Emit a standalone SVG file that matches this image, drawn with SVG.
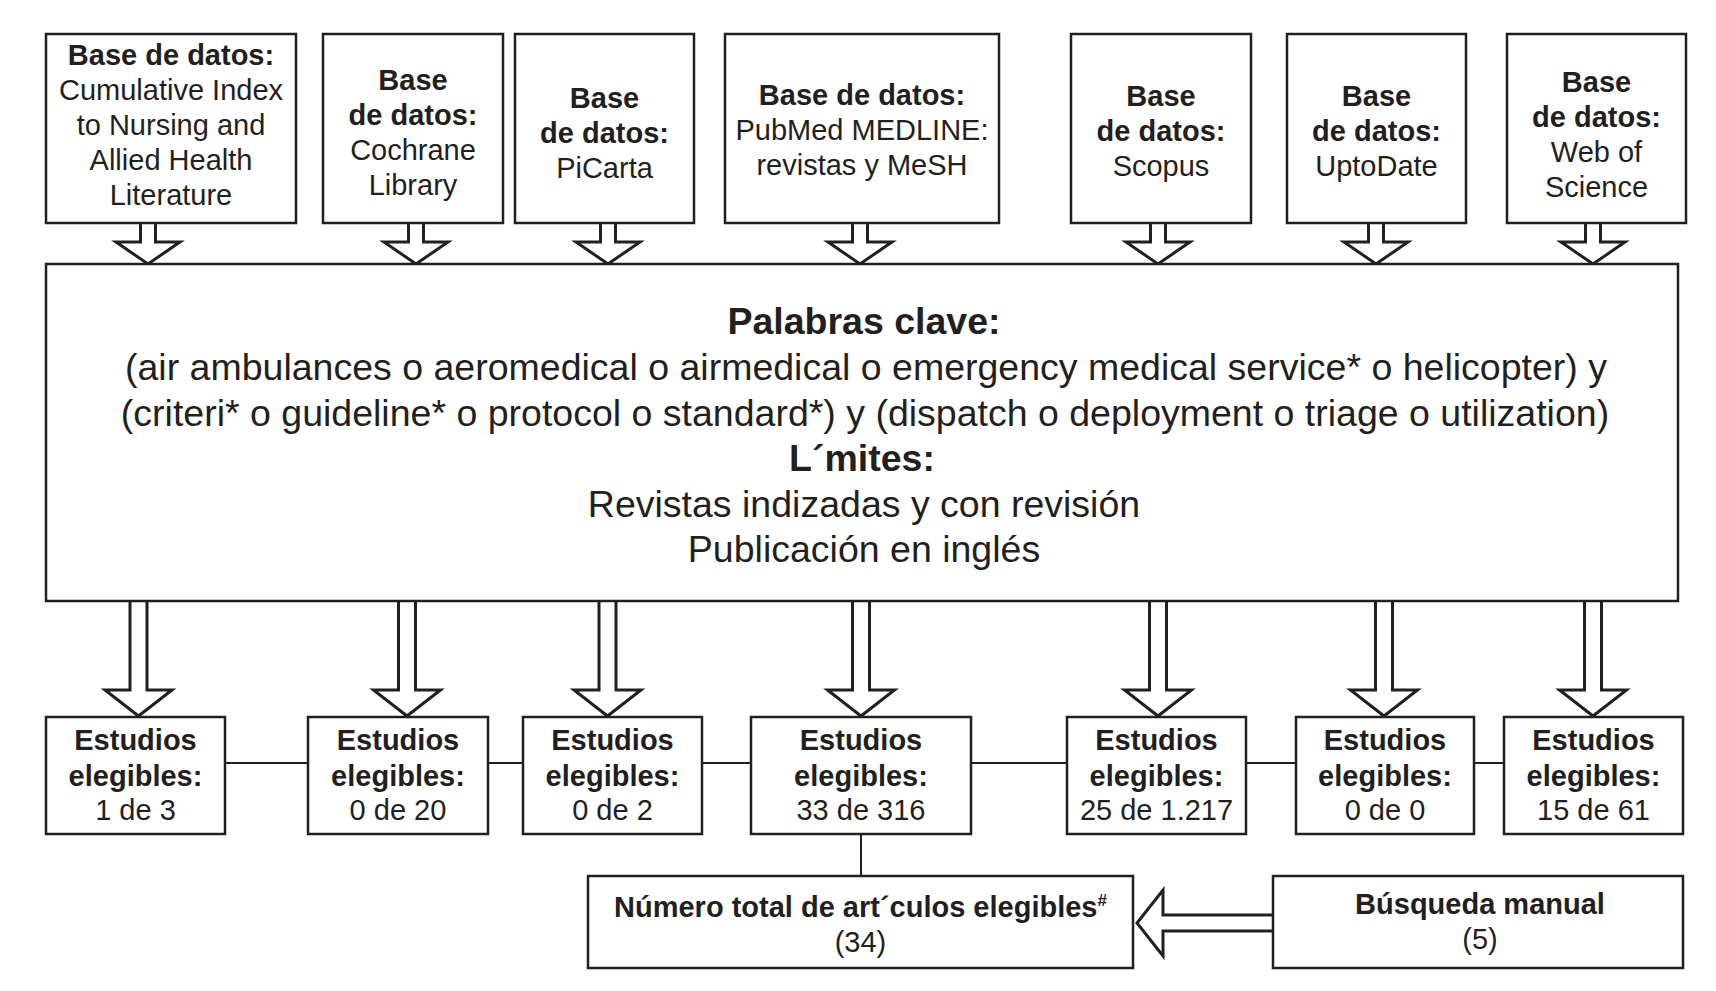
<svg xmlns="http://www.w3.org/2000/svg" width="1716" height="991" viewBox="0 0 1716 991">
<style>
  .box { fill: #ffffff; stroke: #231f20; stroke-width: 2.5; }
  .t { font-family: "Liberation Sans", Arial, sans-serif; font-size: 29px; fill: #231f20; text-anchor: middle; }
  .b { font-weight: bold; }
  .m { font-size: 37.5px; }
  .line { stroke: #231f20; stroke-width: 2; fill: none; }
  .arrow { fill: #ffffff; stroke: #231f20; stroke-width: 3; stroke-linejoin: miter; }
</style>
<rect width="1716" height="991" fill="#ffffff"/>

<g id="connectors">
  <path class="arrow" d="M140.5,223 V242 H116 L148,264 L180,242 H155.5 V223"/>
  <path class="arrow" d="M408.5,223 V242 H384 L416,264 L448,242 H423.5 V223"/>
  <path class="arrow" d="M600.5,223 V242 H576 L608,264 L640,242 H615.5 V223"/>
  <path class="arrow" d="M852.5,223 V242 H828 L860,264 L892,242 H867.5 V223"/>
  <path class="arrow" d="M1150.5,223 V242 H1126 L1158,264 L1190,242 H1165.5 V223"/>
  <path class="arrow" d="M1368.5,223 V242 H1344 L1376,264 L1408,242 H1383.5 V223"/>
  <path class="arrow" d="M1585.5,223 V242 H1561 L1593,264 L1625,242 H1600.5 V223"/>

  <path class="arrow" d="M130,601 V690 H105 L138.5,716 L172,690 H147 V601"/>
  <path class="arrow" d="M398.5,601 V690 H373.5 L407,716 L440.5,690 H415.5 V601"/>
  <path class="arrow" d="M599,601 V690 H574 L607.5,716 L641,690 H616 V601"/>
  <path class="arrow" d="M852.5,601 V690 H827.5 L861,716 L894.5,690 H869.5 V601"/>
  <path class="arrow" d="M1149.5,601 V690 H1124.5 L1158,716 L1191.5,690 H1166.5 V601"/>
  <path class="arrow" d="M1375.5,601 V690 H1350.5 L1384,716 L1417.5,690 H1392.5 V601"/>
  <path class="arrow" d="M1584.5,601 V690 H1559.5 L1593,716 L1626.5,690 H1601.5 V601"/>

  <line class="line" x1="225" y1="763" x2="308" y2="763"/>
  <line class="line" x1="488" y1="763" x2="523" y2="763"/>
  <line class="line" x1="702" y1="763" x2="751" y2="763"/>
  <line class="line" x1="971" y1="763" x2="1067" y2="763"/>
  <line class="line" x1="1246" y1="763" x2="1296" y2="763"/>
  <line class="line" x1="1474" y1="763" x2="1504" y2="763"/>
  <line class="line" x1="861" y1="834" x2="861" y2="876"/>

  <path class="arrow" d="M1273,915 H1163 V890 L1137,923 L1163,956 V931 H1273"/>
</g>

<g id="db-cinahl">
  <rect class="box" x="46" y="34" width="250" height="189"/>
  <text class="t b" x="171" y="65">Base de datos:</text>
  <text class="t" x="171" y="100">Cumulative Index</text>
  <text class="t" x="171" y="135">to Nursing and</text>
  <text class="t" x="171" y="170">Allied Health</text>
  <text class="t" x="171" y="205">Literature</text>
</g>
<g id="db-cochrane">
  <rect class="box" x="323" y="34" width="180" height="189"/>
  <text class="t b" x="413" y="90">Base</text>
  <text class="t b" x="413" y="125">de datos:</text>
  <text class="t" x="413" y="160">Cochrane</text>
  <text class="t" x="413" y="195">Library</text>
</g>
<g id="db-picarta">
  <rect class="box" x="515" y="34" width="179" height="189"/>
  <text class="t b" x="604.5" y="108">Base</text>
  <text class="t b" x="604.5" y="143">de datos:</text>
  <text class="t" x="604.5" y="178">PiCarta</text>
</g>
<g id="db-pubmed">
  <rect class="box" x="725" y="34" width="274" height="189"/>
  <text class="t b" x="862" y="105">Base de datos:</text>
  <text class="t" x="862" y="140">PubMed MEDLINE:</text>
  <text class="t" x="862" y="175">revistas y MeSH</text>
</g>
<g id="db-scopus">
  <rect class="box" x="1071" y="34" width="180" height="189"/>
  <text class="t b" x="1161" y="106">Base</text>
  <text class="t b" x="1161" y="141">de datos:</text>
  <text class="t" x="1161" y="176">Scopus</text>
</g>
<g id="db-uptodate">
  <rect class="box" x="1287" y="34" width="179" height="189"/>
  <text class="t b" x="1376.5" y="106">Base</text>
  <text class="t b" x="1376.5" y="141">de datos:</text>
  <text class="t" x="1376.5" y="176">UptoDate</text>
</g>
<g id="db-wos">
  <rect class="box" x="1507" y="34" width="179" height="189"/>
  <text class="t b" x="1596.5" y="92">Base</text>
  <text class="t b" x="1596.5" y="127">de datos:</text>
  <text class="t" x="1596.5" y="162">Web of</text>
  <text class="t" x="1596.5" y="197">Science</text>
</g>

<g id="keywords">
  <rect class="box" x="46" y="264" width="1632" height="337"/>
  <text class="t m b" x="864" y="334">Palabras clave:</text>
  <text class="t m" x="866" y="380">(air ambulances o aeromedical o airmedical o emergency medical service* o helicopter) y</text>
  <text class="t m" x="865" y="426">(criteri* o guideline* o protocol o standard*) y (dispatch o deployment o triage o utilization)</text>
  <text class="t m b" x="862" y="471">L´mites:</text>
  <text class="t m" x="864" y="517">Revistas indizadas y con revisión</text>
  <text class="t m" x="864" y="562">Publicación en inglés</text>
</g>

<g id="res-cinahl">
  <rect class="box" x="46" y="717" width="179" height="117"/>
  <text class="t b" x="135.5" y="750">Estudios</text>
  <text class="t b" x="135.5" y="786">elegibles:</text>
  <text class="t" x="135.5" y="820">1 de 3</text>
</g>
<g id="res-cochrane">
  <rect class="box" x="308" y="717" width="180" height="117"/>
  <text class="t b" x="398" y="750">Estudios</text>
  <text class="t b" x="398" y="786">elegibles:</text>
  <text class="t" x="398" y="820">0 de 20</text>
</g>
<g id="res-picarta">
  <rect class="box" x="523" y="717" width="179" height="117"/>
  <text class="t b" x="612.5" y="750">Estudios</text>
  <text class="t b" x="612.5" y="786">elegibles:</text>
  <text class="t" x="612.5" y="820">0 de 2</text>
</g>
<g id="res-pubmed">
  <rect class="box" x="751" y="717" width="220" height="117"/>
  <text class="t b" x="861" y="750">Estudios</text>
  <text class="t b" x="861" y="786">elegibles:</text>
  <text class="t" x="861" y="820">33 de 316</text>
</g>
<g id="res-scopus">
  <rect class="box" x="1067" y="717" width="179" height="117"/>
  <text class="t b" x="1156.5" y="750">Estudios</text>
  <text class="t b" x="1156.5" y="786">elegibles:</text>
  <text class="t" x="1156.5" y="820">25 de 1.217</text>
</g>
<g id="res-uptodate">
  <rect class="box" x="1296" y="717" width="178" height="117"/>
  <text class="t b" x="1385" y="750">Estudios</text>
  <text class="t b" x="1385" y="786">elegibles:</text>
  <text class="t" x="1385" y="820">0 de 0</text>
</g>
<g id="res-wos">
  <rect class="box" x="1504" y="717" width="179" height="117"/>
  <text class="t b" x="1593.5" y="750">Estudios</text>
  <text class="t b" x="1593.5" y="786">elegibles:</text>
  <text class="t" x="1593.5" y="820">15 de 61</text>
</g>

<g id="total">
  <rect class="box" x="588" y="876" width="545" height="92"/>
  <text class="t b" x="860.5" y="917">Número total de art´culos elegibles<tspan font-size="17" dy="-11">#</tspan></text>
  <text class="t" x="860.5" y="952">(34)</text>
</g>
<g id="manual">
  <rect class="box" x="1273" y="876" width="410" height="92"/>
  <text class="t b" x="1480" y="914">Búsqueda manual</text>
  <text class="t" x="1480" y="949">(5)</text>
</g>
</svg>
